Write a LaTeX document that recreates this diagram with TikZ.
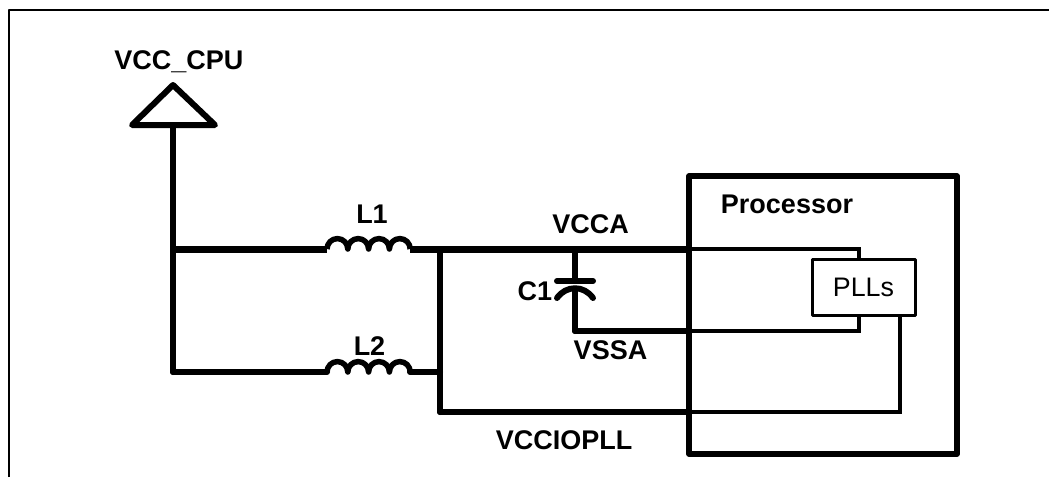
\documentclass[tikz,border=0pt]{standalone}
\usepackage{fontspec}
\setmainfont{Liberation Sans}

\begin{document}
\begin{tikzpicture}
[x=1pt,y=-1pt,line join=round,
every node/.style={inner sep=0pt,font=\fontsize{27}{30}\selectfont\bfseries},
wire/.style={line width=6pt},
rail/.style={line width=7pt},
thinwire/.style={line width=4pt},
plate/.style={line width=6pt,line cap=round},
coil/.style={line width=5.5pt}]
\useasboundingbox (0,0) rectangle (1049,477);
% outer frame, open at the bottom and on the right
\coordinate (f1) at (9,477);
\coordinate (f2) at (9,10);
\coordinate (f3) at (1049,10);
\draw[line width=2.5pt] (f1) -- (f2) -- (f3);
% points on the wires
\coordinate (t1) at (132,125);
\coordinate (t2) at (173,85);
\coordinate (t3) at (215,125);
\coordinate (vcc) at (173,125);
\coordinate (j1) at (173,249);
\coordinate (j2) at (173,372);
\coordinate (l1a) at (327,249);
\coordinate (l1b) at (410,249);
\coordinate (l2a) at (327,372);
\coordinate (l2b) at (410,372);
\coordinate (j3) at (440,249);
\coordinate (j4) at (440,372);
\coordinate (j5) at (440,412);
\coordinate (j6) at (575,249);
\coordinate (c1a) at (575,281);
\coordinate (c1b) at (575,290);
\coordinate (c1c) at (575,331);
\coordinate (pa) at (690,249);
\coordinate (pb) at (690,331);
\coordinate (pc) at (690,412);
\coordinate (q1) at (859,249);
\coordinate (q2) at (859,259);
\coordinate (q3) at (859,315);
\coordinate (q4) at (859,331);
\coordinate (q5) at (900,315);
\coordinate (q6) at (900,412);
\coordinate (p1) at (557,281);
\coordinate (p2) at (593,281);
\coordinate (p3) at (557,298);
\coordinate (p4) at (593,298);
% supply symbol
\draw[plate] (t1) -- (t2) -- (t3) -- cycle;
% thick wires
\foreach \from/\to in {vcc/j2,j2/l2a,l2b/j4,j3/j5,j5/pc,j6/c1a,c1b/c1c,c1c/pb}
\draw[wire,line cap=round] (\from) -- (\to);
\foreach \from/\to in {j1/l1a,l1b/pa}
\draw[rail] (\from) -- (\to);
% inside the processor
\foreach \from/\to in {pa/q1,q1/q2,q3/q4,q4/pb,q5/q6,q6/pc}
\draw[thinwire,line cap=rect] (\from) -- (\to);
% blocks
\node[draw,line width=5.5pt,minimum width=268pt,minimum height=278pt] (proc) at (823,315) {};
\node[draw,fill=white,line width=3pt,minimum width=103pt,minimum height=56pt,font=\fontsize{26.8}{30}\selectfont] (plls) at (863.5,287) {PLLs};
% inductors
\foreach \a in {l1a,l2a}
\draw[coil] (\a) arc[start angle=180,end angle=360,radius=10.4] arc[start angle=180,end angle=360,radius=10.4] arc[start angle=180,end angle=360,radius=10.4] arc[start angle=180,end angle=360,radius=10.4];
% capacitor
\draw[plate] (p1) -- (p2);
\draw[plate] (p3) .. controls (566,285) and (584,285) .. (p4);
% labels
\node[anchor=base] (vcccpu) at (179,69) {VCC\_CPU};
\node[anchor=base] (l1) at (372,223) {L1};
\node[anchor=base] (l2) at (369.5,355) {L2};
\node[anchor=base] (vcca) at (590.5,233) {VCCA};
\node[anchor=base] (c1) at (535,300) {C1};
\node[anchor=base] (vssa) at (610.5,359) {VSSA};
\node[anchor=base] (vcciopll) at (564,449) {VCCIOPLL};
\node[anchor=base] (procname) at (787,213) {Processor};
\end{tikzpicture}
\end{document}
